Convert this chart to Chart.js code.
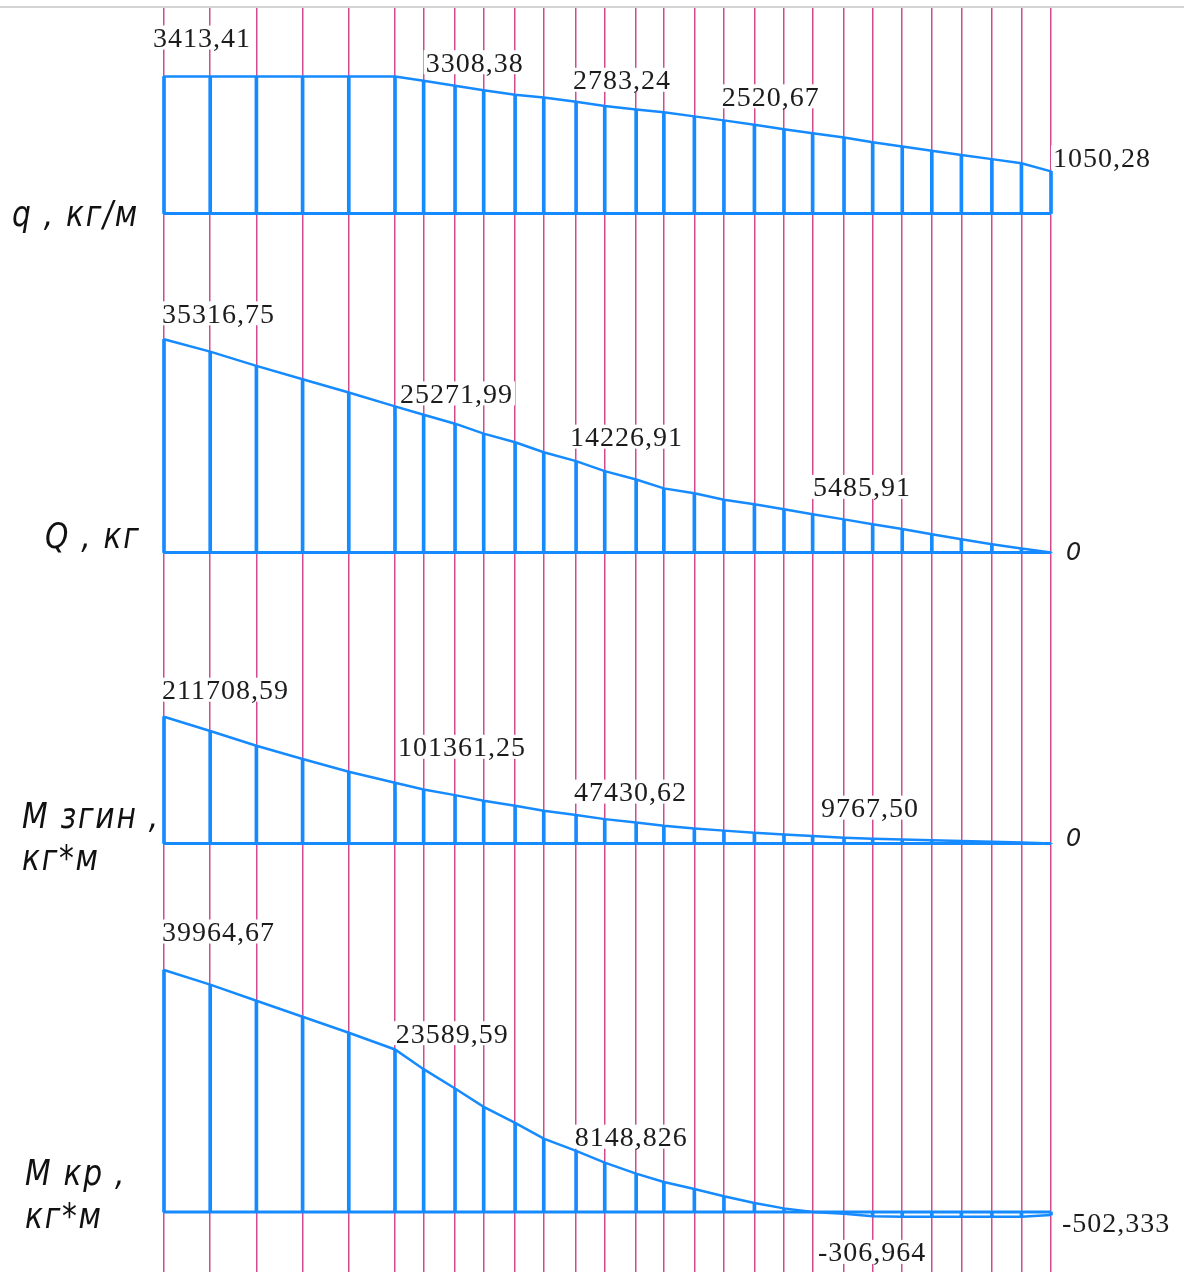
<!DOCTYPE html>
<html>
<head>
<meta charset="utf-8">
<style>
  html, body { margin: 0; padding: 0; background: #fff; }
  canvas { display: block; }
</style>
<script src="https://cdn.jsdelivr.net/npm/chart.js@4.4.1/dist/chart.umd.min.js"></script>
</head>
<body>
<canvas id="epures" width="1184" height="1272"></canvas>
<script>
// stations along the half-span, m
const stations = [0, 0.5, 1.0, 1.5, 2.0, 2.5, 2.81, 3.15, 3.46, 3.80, 4.11, 4.46, 4.77, 5.11, 5.41, 5.74, 6.06, 6.39, 6.71, 7.02, 7.36, 7.67, 7.99, 8.31, 8.63, 8.96, 9.28, 9.60]

// q, кг/м
const qValues = [3413.41, 3413.41, 3413.41, 3413.41, 3413.41, 3413.41, 3308.38, 3185, 3070, 2960, 2890, 2783.24, 2680, 2590, 2520.67, 2420, 2320, 2210, 2100, 2000, 1895, 1775, 1670, 1565, 1460, 1355, 1250, 1050.28]
// Q, кг
const shearValues = [35316.75, 33280, 30910, 28710, 26510, 24200, 22830, 21340, 19690, 18260, 16610, 15130, 13480, 12100, 10620, 9800, 8750, 7980, 7150, 6330, 5485.91, 4680, 3900, 3030, 2200, 1380, 660, 0]
// M згин, кг*м
const bendValues = [211708.59, 187800, 163300, 141000, 119800, 101361.25, 90270, 80800, 71300, 63000, 54600, 47430.62, 40700, 35100, 29500, 25000, 21500, 18000, 15200, 12400, 9767.50, 8000, 6800, 5400, 4200, 3000, 1800, 0]
// M кр, кг*м
const torqueValues = [39964.67, 37540, 34890, 32250, 29600, 26840, 23589.59, 20400, 17360, 14720, 12120, 10090, 8148.826, 6340, 4960, 3800, 2600, 1500, 600, 0, -306.964, -700, -780, -800, -800, -790, -780, -502.333]

// value captions and the station each belongs to
const qLabels = ['3413,41', '3308,38', '2783,24', '2520,67', '1050,28']
const qLabelAt = [0, 6, 11, 14, 27]
const shearLabels = ['35316,75', '25271,99', '14226,91', '5485,91', '0']
const shearLabelAt = [0, 5, 11, 20, 27]
const bendLabels = ['211708,59', '101361,25', '47430,62', '9767,50', '0']
const bendLabelAt = [0, 5, 11, 20, 27]
const torqueLabels = ['39964,67', '23589,59', '8148,826', '-306,964', '-502,333']
const torqueLabelAt = [0, 6, 12, 20, 27]

const BLUE = 'rgb(22,138,255)'
const PINK = '#d24a92'
const AREA_TOP = 8
const AREA_BOTTOM = 1272

// panel layout: baseline pixel, pixel of the first value, caption offsets, titles
const panels = [
  { id: 'yq', values: qValues, labels: qLabels, at: qLabelAt, base: 213.5, top: 76.5,
    offsets: [[-11, -39], [2, -18.5], [-3, -22], [58, -16], [2, -14]],
    title: ['q , кг/м'], titleX: 12, titleY: [226] },
  { id: 'yQ', values: shearValues, labels: shearLabels, at: shearLabelAt, base: 552.5, top: 339.3,
    offsets: [[-2, -26], [5, -13], [-6, -24.5], [-31, -32.5], [15, -2]],
    title: ['Q , кг'], titleX: 45, titleY: [548] },
  { id: 'yM', values: bendValues, labels: bendLabels, at: bendLabelAt, base: 843.5, top: 716.7,
    offsets: [[-2, -27], [3, -36], [-2, -23.5], [-23, -30], [15, -7.5]],
    title: ['М згин ,', 'кг*м'], titleX: 22, titleY: [828, 870] },
  { id: 'yK', values: torqueValues, labels: torqueLabels, at: torqueLabelAt, base: 1212, top: 970,
    offsets: [[-2, -38.5], [-28, -36], [-30, -26], [-26, 38], [11, 7]],
    title: ['М кр ,', 'кг*м'], titleX: 25, titleY: [1185, 1228] }
]

const points = (vals) => stations.map((x, i) => ({ x: x, y: vals[i] }))

const datasets = []
const scales = {
  x: {
    type: 'linear',
    min: stations[0],
    max: stations[stations.length - 1],
    offset: false,
    afterBuildTicks: (axis) => { axis.ticks = stations.map(v => ({ value: v })) },
    ticks: { display: false },
    border: { display: false },
    grid: { color: PINK, lineWidth: 1.5, drawTicks: false, offset: false }
  }
}

panels.forEach(p => {
  // scale so that 0 sits on the panel baseline and the first value on p.top
  const k = (p.base - p.top) / Math.abs(p.values[0])
  scales[p.id] = {
    type: 'linear',
    display: false,
    min: (p.base - AREA_BOTTOM) / k,
    max: (p.base - AREA_TOP) / k
  }
  datasets.push({
    type: 'line',
    data: points(p.values),
    yAxisID: p.id,
    borderColor: BLUE,
    borderWidth: 2.5,
    pointRadius: 0,
    tension: 0,
    fill: false,
    clip: false
  })
  datasets.push({
    type: 'line',
    data: [{ x: stations[0], y: 0 }, { x: stations[stations.length - 1], y: 0 }],
    yAxisID: p.id,
    borderColor: BLUE,
    borderWidth: 3,
    pointRadius: 0,
    fill: false,
    clip: false
  })
  datasets.push({
    type: 'bar',
    data: points(p.values),
    yAxisID: p.id,
    backgroundColor: BLUE,
    borderWidth: 0,
    barThickness: 3,
    grouped: false,
    clip: false
  })
})

const SERIF = '28px "Liberation Serif", "Times New Roman", serif'
const GOST = 'italic 35px "DejaVu Sans", sans-serif'
const GOST_SMALL = 'italic 24px "DejaVu Sans", sans-serif'

const drawings = {
  id: 'drawings',
  beforeDraw(chart) {
    const ctx = chart.ctx
    ctx.save()
    ctx.fillStyle = '#fff'
    ctx.fillRect(0, 0, chart.width, chart.height)
    ctx.strokeStyle = '#d4d4d4'
    ctx.lineWidth = 2
    ctx.beginPath()
    ctx.moveTo(0, 7)
    ctx.lineTo(chart.width, 7)
    ctx.stroke()
    ctx.restore()
  },
  beforeDatasetsDraw(chart) {
    const ctx = chart.ctx
    const xs = chart.scales.x
    ctx.save()
    panels.forEach(p => {
      const ys = chart.scales[p.id]
      p.labels.forEach((text, j) => {
        const i = p.at[j]
        const [dx, dy] = p.offsets[j]
        const left = xs.getPixelForValue(stations[i]) + dx
        const mid = ys.getPixelForValue(p.values[i]) + dy
        const isZero = text === '0'
        ctx.font = isZero ? GOST_SMALL : SERIF
        ctx.letterSpacing = isZero ? '0px' : '1px'
        const w = ctx.measureText(text).width
        ctx.fillStyle = '#fff'
        ctx.fillRect(left - 2, mid - 12, w + 4, 24)
        ctx.fillStyle = '#1c1c1c'
        ctx.textBaseline = 'alphabetic'
        ctx.fillText(text, left, mid + 9.5)
      })
      // panel titles in drafting style
      ctx.font = GOST
      ctx.letterSpacing = '2px'
      ctx.fillStyle = '#111'
      p.title.forEach((line, j) => {
        ctx.save()
        ctx.translate(p.titleX, p.titleY[j])
        ctx.scale(0.85, 1)
        ctx.fillText(line, 0, 0)
        ctx.restore()
      })
    })
    ctx.restore()
  }
}

new Chart(document.getElementById('epures'), {
  type: 'line',
  data: { datasets: datasets },
  options: {
    responsive: false,
    animation: false,
    devicePixelRatio: 1,
    layout: { padding: { left: 164, right: 133, top: AREA_TOP, bottom: 0 } },
    plugins: { legend: { display: false }, tooltip: { enabled: false } },
    scales: scales
  },
  plugins: [drawings]
})
</script>
</body>
</html>
